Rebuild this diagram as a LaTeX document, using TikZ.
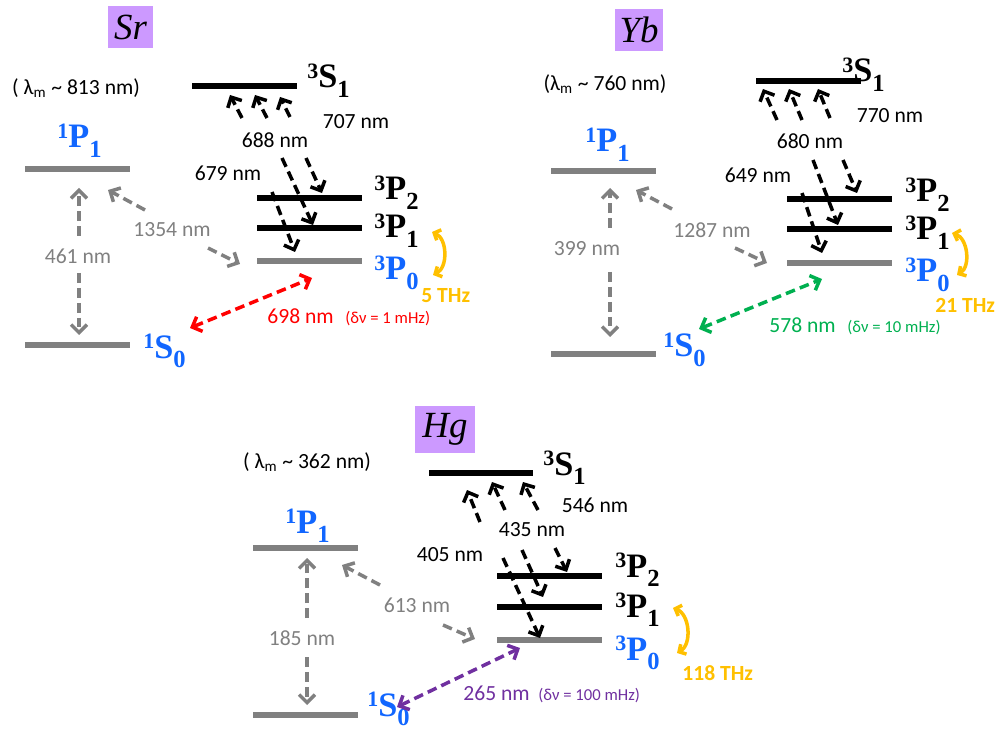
\documentclass[tikz,border=0pt]{standalone}
\usepackage{fontspec}
\setmainfont{Carlito}
\newfontfamily\timesfont{Liberation Serif}
\usetikzlibrary{arrows.meta}

\definecolor{lvlblue}{RGB}{17,102,255}
\definecolor{lgray}{RGB}{128,128,128}
\definecolor{gold}{RGB}{255,192,0}
\definecolor{lred}{RGB}{255,0,0}
\definecolor{lgreen}{RGB}{0,176,80}
\definecolor{lpurple}{RGB}{112,48,160}
\definecolor{lilac}{RGB}{204,153,255}

% term symbol: ^{#1}#2_{#3}
\newcommand{\term}[3]{{\timesfont\bfseries\fontsize{19.5}{19.5}\selectfont
  \raisebox{5.5pt}{\fontsize{12.5}{12.5}\selectfont #1}#2\raisebox{-5.5pt}{\fontsize{14}{14}\selectfont #3}}}

\tikzset{
  bar/.style={line width=3.6pt},
  tr/.style={line width=2pt, dash pattern=on 5.5pt off 3pt},
  clk/.style={gold, line width=2pt, {Straight Barb[length=3pt,width=6.5pt]}-{Straight Barb[length=3pt,width=6.5pt]}},
  nm/.style={font=\fontsize{12.3}{14}\selectfont, inner sep=1pt},
  small/.style={font=\fontsize{9.5}{11}\selectfont, inner sep=0pt, anchor=base west},
  lvl/.style={anchor=base west, inner sep=0pt},
  elem/.style={fill=lilac, font=\timesfont\itshape\fontsize{21}{21}\selectfont, inner sep=0pt, minimum height=0.84cm}
}

\begin{document}
\begin{tikzpicture}[x=0.02cm, y=-0.02cm, >={Straight Barb[length=4.5pt,width=9pt]}]
  \useasboundingbox (0,0) rectangle (998,733);

  % ---------- Sr ----------
  \node[elem, minimum width=0.9cm] (srname) at (130.5,27) {Sr};
  \node[nm] (srmagic) at (76,88) {( λ\textsubscript{m} \textasciitilde{} 813 nm)};
  \draw[bar] (192,86) -- (297,86);
  \draw[bar, lgray] (25,169) -- (130,169);
  \draw[bar, lgray] (25,345) -- (130,345);
  \draw[bar] (257,198) -- (362,198);
  \draw[bar] (257,228) -- (362,228);
  \draw[bar, lgray] (257,261) -- (362,261);
  \node[lvl] (srS1) at (307,88) {\term{3}{S}{1}};
  \node[lvl, text=lvlblue] (srP1) at (57,148) {\term{1}{P}{1}};
  \node[lvl, text=lvlblue] (srS0) at (143,358) {\term{1}{S}{0}};
  \node[lvl] (srTP2) at (374,200) {\term{3}{P}{2}};
  \node[lvl] (srTP1) at (374,238) {\term{3}{P}{1}};
  \node[lvl, text=lvlblue] (srTP0) at (374,280) {\term{3}{P}{0}};
  \foreach \ax/\ay/\bx/\by in {242/118/230/95, 267/118/255/95, 290/117/280/97,
                              306/158/322/193, 282/158/313/225, 272/192/295/252}
    \draw[tr, ->] (\ax,\ay) -- (\bx,\by);
  \draw[tr, lgray, ->] (79,236) -- (79,188);
  \draw[tr, lgray, ->] (79,273) -- (79,335);
  \draw[tr, lgray, ->] (145,210) -- (108,190);
  \draw[tr, lgray, ->] (208,248) -- (240,264);
  \draw[tr, lred, <->] (190,328) -- (312,278);
  \draw[clk] (432,232) to[bend left=65] (433,275);
  \node[nm] (sr707) at (356,122) {707 nm};
  \node[nm] (sr688) at (275,140) {688 nm};
  \node[nm] (sr679) at (228,173) {679 nm};
  \node[nm, text=lgray] (sr461) at (78,256) {461 nm};
  \node[nm, text=lgray] (sr1354) at (172,230) {1354 nm};
  \node[nm, anchor=base west, inner sep=0pt, text=lred] (sr698) at (267,324) {698 nm};
  \node[small, text=lred] (srwidth) at (345,324) {(δν = 1 mHz)};
  \node[nm, anchor=base west, inner sep=0pt, text=gold, font=\fontsize{12.3}{14}\selectfont\bfseries] (srthz) at (421,303) {5 THz};

  % ---------- Yb ----------
  \node[elem, minimum width=0.96cm] (ybname) at (639,30) {Yb};
  \node[nm] (ybmagic) at (605,84) {(λ\textsubscript{m} \textasciitilde{} 760 nm)};
  \draw[bar] (756,81) -- (861,81);
  \draw[bar, lgray] (551,171) -- (656,171);
  \draw[bar, lgray] (551,354) -- (656,354);
  \draw[bar] (787,199) -- (892,199);
  \draw[bar] (787,229) -- (892,229);
  \draw[bar, lgray] (787,263) -- (892,263);
  \node[lvl] (ybS1) at (842,82) {\term{3}{S}{1}};
  \node[lvl, text=lvlblue] (ybP1) at (585,152) {\term{1}{P}{1}};
  \node[lvl, text=lvlblue] (ybS0) at (663,357) {\term{1}{S}{0}};
  \node[lvl] (ybTP2) at (905,202) {\term{3}{P}{2}};
  \node[lvl] (ybTP1) at (905,240) {\term{3}{P}{1}};
  \node[lvl, text=lvlblue] (ybTP0) at (905,282) {\term{3}{P}{0}};
  \foreach \ax/\ay/\bx/\by in {777/120/763/89, 802/120/789/89, 830/118/818/89,
                              843/160/857/193, 813/160/838/225, 802/193/822/253}
    \draw[tr, ->] (\ax,\ay) -- (\bx,\by);
  \draw[tr, lgray, ->] (610,228) -- (610,188);
  \draw[tr, lgray, ->] (610,272) -- (610,337);
  \draw[tr, lgray, ->] (672,209) -- (636,190);
  \draw[tr, lgray, ->] (735,248) -- (767,263);
  \draw[tr, lgreen, <->] (699,329) -- (822,279);
  \draw[clk] (952,233) to[bend left=65] (957,275);
  \node[nm] (yb770) at (890,116) {770 nm};
  \node[nm] (yb680) at (810,141) {680 nm};
  \node[nm] (yb649) at (758,175) {649 nm};
  \node[nm, text=lgray] (yb399) at (587,249) {399 nm};
  \node[nm, text=lgray] (yb1287) at (712,230) {1287 nm};
  \node[nm, anchor=base west, inner sep=0pt, text=lgreen] (yb578) at (769,333) {578 nm};
  \node[small, text=lgreen] (ybwidth) at (847,333) {(δν = 10 mHz)};
  \node[nm, anchor=base west, inner sep=0pt, text=gold, font=\fontsize{12.3}{14}\selectfont\bfseries] (ybthz) at (935,313) {21 THz};

  % ---------- Hg ----------
  \node[elem, minimum width=1.2cm, minimum height=0.94cm] (hgname) at (445,429.5) {Hg};
  \node[nm] (hgmagic) at (307,462) {( λ\textsubscript{m} \textasciitilde{} 362 nm)};
  \draw[bar] (429,473) -- (533,473);
  \draw[bar, lgray] (253,548) -- (358,548);
  \draw[bar, lgray] (253,715) -- (358,715);
  \draw[bar] (497,576) -- (602,576);
  \draw[bar] (497,607) -- (602,607);
  \draw[bar, lgray] (497,640) -- (602,640);
  \node[lvl] (hgS1) at (543,475) {\term{3}{S}{1}};
  \node[lvl, text=lvlblue] (hgP1) at (285,533) {\term{1}{P}{1}};
  \node[lvl, text=lvlblue] (hgS0) at (367,716) {\term{1}{S}{0}};
  \node[lvl] (hgTP2) at (615,577) {\term{3}{P}{2}};
  \node[lvl] (hgTP1) at (615,617) {\term{3}{P}{1}};
  \node[lvl, text=lvlblue] (hgTP0) at (615,660) {\term{3}{P}{0}};
  \foreach \ax/\ay/\bx/\by in {480/522/467/490, 505/510/492/482, 538/510/523/482,
                              555/548/567/572, 522/550/543/597, 503/558/540/638}
    \draw[tr, ->] (\ax,\ay) -- (\bx,\by);
  \draw[tr, lgray, ->] (307,618) -- (307,558);
  \draw[tr, lgray, ->] (307,657) -- (307,705);
  \draw[tr, lgray, ->] (380,585) -- (342,565);
  \draw[tr, lgray, ->] (443,625) -- (475,639);
  \draw[tr, lpurple, <->] (397,707) -- (520,648);
  \draw[clk] (673,608) to[bend left=65] (677,653);
  \node[nm] (hg546) at (595,505) {546 nm};
  \node[nm] (hg435) at (532,530) {435 nm};
  \node[nm] (hg405) at (450,555) {405 nm};
  \node[nm, text=lgray] (hg185) at (302,638) {185 nm};
  \node[nm, text=lgray] (hg613) at (417,605) {613 nm};
  \node[nm, anchor=base west, inner sep=0pt, text=lpurple] (hg265) at (463,700) {265 nm};
  \node[small, text=lpurple] (hgwidth) at (538,700) {(δν = 100 mHz)};
  \node[nm, anchor=base west, inner sep=0pt, text=gold, font=\fontsize{12.3}{14}\selectfont\bfseries] (hgthz) at (682,680) {118 THz};
\end{tikzpicture}
\end{document}
